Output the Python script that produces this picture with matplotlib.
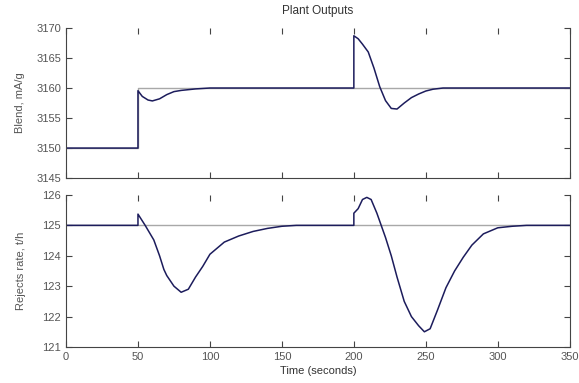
import matplotlib
matplotlib.use("Agg")
import matplotlib.pyplot as plt

# Blend output (top panel)
blend_t = [0, 50, 50, 53, 57, 60, 65, 70, 75, 80, 90, 100, 200, 200, 203, 206, 210,
           214, 218, 222, 226, 230, 235, 240, 245, 250, 255, 262, 350]
blend_y = [3150, 3150, 3159.55, 3158.6, 3158.0, 3157.85, 3158.2, 3158.9, 3159.4, 3159.6,
           3159.85, 3160, 3160, 3168.7, 3168.2, 3167.3, 3166.0, 3163.3, 3160.2, 3157.9,
           3156.6, 3156.5, 3157.5, 3158.4, 3159.0, 3159.5, 3159.8, 3160, 3160]
blend_sp_t = [0, 50, 50, 350]
blend_sp_y = [3150, 3150, 3160, 3160]

# Rejects rate output (bottom panel)
rej_t = [0, 50, 50, 55, 61, 65, 68, 70, 75, 80, 85, 90, 95, 100, 110, 120, 130, 140, 150,
         160, 200, 200, 203, 206, 209, 212, 216, 219, 222, 226, 230, 235, 240, 245, 249,
         253, 258, 264, 270, 276, 282, 290, 300, 310, 320, 350]
rej_y = [125, 125, 125.37, 125.0, 124.52, 124.0, 123.55, 123.35, 123.0, 122.8, 122.9, 123.3,
         123.65, 124.05, 124.45, 124.65, 124.8, 124.9, 124.97, 125, 125, 125.4, 125.55,
         125.85, 125.92, 125.85, 125.4, 125.0, 124.6, 124.0, 123.3, 122.5, 122.0, 121.7,
         121.5, 121.6, 122.2, 122.95, 123.5, 123.95, 124.35, 124.72, 124.92, 124.97, 125, 125]
rej_sp_t = [0, 350]
rej_sp_y = [125, 125]

x_ticks = [0, 50, 100, 150, 200, 250, 300, 350]
blend_ticks = [3145, 3150, 3155, 3160, 3165, 3170]
rej_ticks = [121, 122, 123, 124, 125, 126]

plt.rcParams['font.family'] = ['Liberation Sans', 'DejaVu Sans']
plt.rcParams['font.size'] = 8

LINE = "#1c1c5c"
SP = "#a8a8a8"
TXT = "#555555"

fig = plt.figure(figsize=(5.79, 3.83), dpi=100)
ax1 = fig.add_axes([0.114, 0.535, 0.870, 0.392])
ax2 = fig.add_axes([0.114, 0.094, 0.870, 0.397])


def style(ax):
    ax.set_xlim(0, 350)
    ax.set_xticks(x_ticks)
    ax.tick_params(direction="in", top=True, right=True, length=4, width=0.8,
                   colors="#444444", labelcolor=TXT, labelsize=8)
    ax.spines["top"].set_visible(False)
    for s in ["left", "bottom", "right"]:
        ax.spines[s].set_color("#444444")
        ax.spines[s].set_linewidth(0.8)


ax1.plot(blend_sp_t, blend_sp_y, color=SP, lw=1.0)
ax1.plot(blend_t, blend_y, color=LINE, lw=1.1)
ax1.set_ylim(3145, 3170)
ax1.set_yticks(blend_ticks)
style(ax1)
ax1.set_xticklabels([])
ax1.set_ylabel("Blend, mA/g", color=TXT, labelpad=8)
ax1.set_title("Plant Outputs", color="#333333", fontsize=8.5, pad=10)

ax2.plot(rej_sp_t, rej_sp_y, color=SP, lw=1.0)
ax2.plot(rej_t, rej_y, color=LINE, lw=1.1)
ax2.set_ylim(121, 126)
ax2.set_yticks(rej_ticks)
style(ax2)
ax2.set_ylabel("Rejects rate, t/h", color=TXT, labelpad=12)
ax2.set_xlabel("Time (seconds)", color="#333333", labelpad=3)

fig.savefig("out.png", dpi=100)
